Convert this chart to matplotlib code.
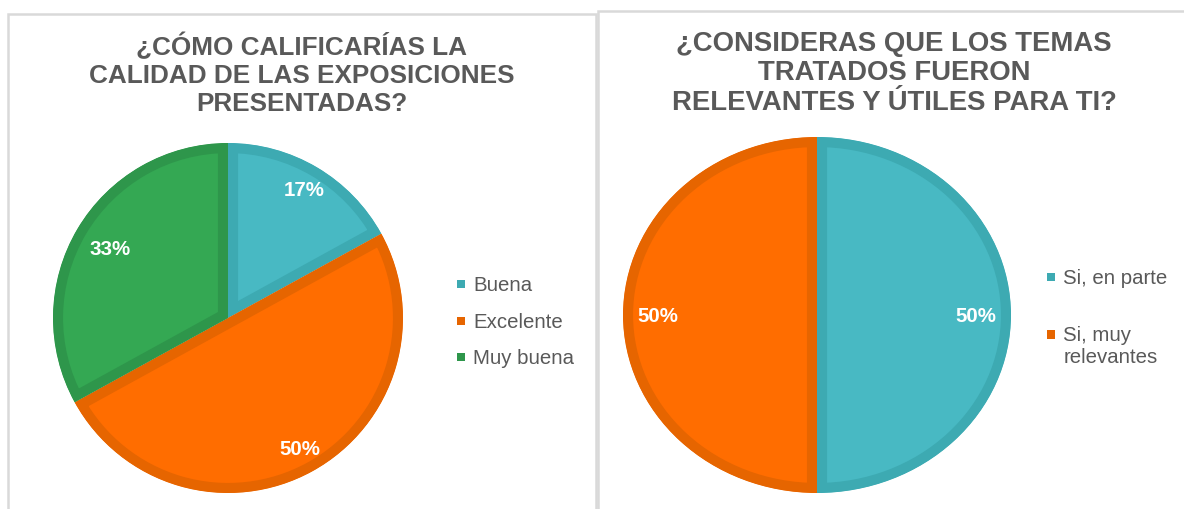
import math
import matplotlib
matplotlib.use("Agg")
import matplotlib.pyplot as plt
from matplotlib.patches import Rectangle, Patch
from matplotlib.legend_handler import HandlerPatch

plt.rcParams['font.family'] = ['Liberation Sans', 'DejaVu Sans']

W, H, DPI = 1184, 510, 100

# ---- data ----
title1 = "¿CÓMO CALIFICARÍAS LA\nCALIDAD DE LAS EXPOSICIONES\nPRESENTADAS?"
labels1 = ["Buena", "Excelente", "Muy buena"]
values1 = [17, 50, 33]

title2 = "¿CONSIDERAS QUE LOS TEMAS\nTRATADOS FUERON\nRELEVANTES Y ÚTILES PARA TI?"
labels2 = ["Si, en parte", "Si, muy\nrelevantes"]
values2 = [50, 50]

# ---- style ----
TEAL, TEAL_E = "#48B9C3", "#3DAAB2"
ORANGE, ORANGE_E = "#FF6D00", "#E66500"
GREEN, GREEN_E = "#34A853", "#2E964B"
colors1, edges1 = [TEAL, ORANGE, GREEN], [TEAL_E, ORANGE_E, GREEN_E]
colors2, edges2 = [TEAL, ORANGE], [TEAL_E, ORANGE_E]
GRAY = "#595959"


def box(x0, y0, x1, y1):
    return [x0 / W, 1 - y1 / H, (x1 - x0) / W, (y1 - y0) / H]


fig = plt.figure(figsize=(W / DPI, H / DPI), dpi=DPI)
fig.patch.set_facecolor("white")

# panel borders
for (x0, y0, x1, y1) in [(8, 15, 596, 530), (598, 12, 1200, 530)]:
    fig.add_artist(Rectangle((x0 / W, 1 - y1 / H), (x1 - x0) / W, (y1 - y0) / H,
                             transform=fig.transFigure, facecolor="none",
                             edgecolor="#D9D9D9", lw=1.8))


def draw_pie(rect, values, colors, edges, dists):
    ax = fig.add_axes(rect)
    wedges, _, autos = ax.pie(values, colors=colors, startangle=90, counterclock=False,
                              radius=1, autopct=lambda p: f"{p:.0f}%",
                              textprops=dict(color="white", fontsize=14.8, fontweight="bold"))
    for w, ec in zip(wedges, edges):
        w.set_edgecolor(ec)
        w.set_linewidth(14.5)
        w.set_joinstyle("miter")
        w.set_clip_on(True)
        w.set_clip_path(w)
    for w, t, d in zip(wedges, autos, dists):
        th = math.radians((w.theta1 + w.theta2) / 2)
        t.set_position((d * math.cos(th), d * math.sin(th)))
    ax.set_aspect("auto")
    ax.set_xlim(-1, 1)
    ax.set_ylim(-1, 1)
    ax.axis("off")
    return ax


draw_pie(box(53, 144, 403, 494), values1, colors1, edges1, [0.85, 0.85, 0.78])
draw_pie(box(623, 138, 1011, 494), values2, colors2, edges2, [0.82, 0.82])

# titles
fig.text(302 / W, 1 - 74.5 / H, title1, ha="center", va="center", multialignment="center",
         fontsize=18.8, fontweight="bold", color=GRAY, linespacing=1.21)
fig.text(894 / W, 1 - 73.5 / H, title2, ha="center", va="center", multialignment="center",
         fontsize=19.8, fontweight="bold", color=GRAY, linespacing=1.19)


# legends
def square(legend, orig_handle, xdescent, ydescent, width, height, fontsize):
    s = 0.4 * fontsize
    return Rectangle((-xdescent, -ydescent + height - 0.45 * fontsize - s / 2), s, s)


leg_kw = dict(loc="upper left", bbox_transform=fig.transFigure, frameon=False,
              fontsize=14.7, handlelength=0.4, handleheight=0.8, handletextpad=0.4,
              borderpad=0, borderaxespad=0, labelcolor=GRAY,
              handler_map={Patch: HandlerPatch(patch_func=square)})


def top_align(leg):
    for col in leg._legend_handle_box.get_children():
        for item in col.get_children():
            item.align = "top"


leg1 = fig.legend(handles=[Patch(facecolor=c, edgecolor="none", label=l) for c, l in zip(edges1, labels1)],
                  bbox_to_anchor=(457 / W, 1 - 276 / H), labelspacing=0.86, **leg_kw)
leg2 = fig.legend(handles=[Patch(facecolor=c, edgecolor="none", label=l) for c, l in zip(edges2, labels2)],
                  bbox_to_anchor=(1047 / W, 1 - 269 / H), labelspacing=1.88, **leg_kw)
top_align(leg1)
top_align(leg2)

fig.savefig("out.png", dpi=DPI, facecolor="white")
